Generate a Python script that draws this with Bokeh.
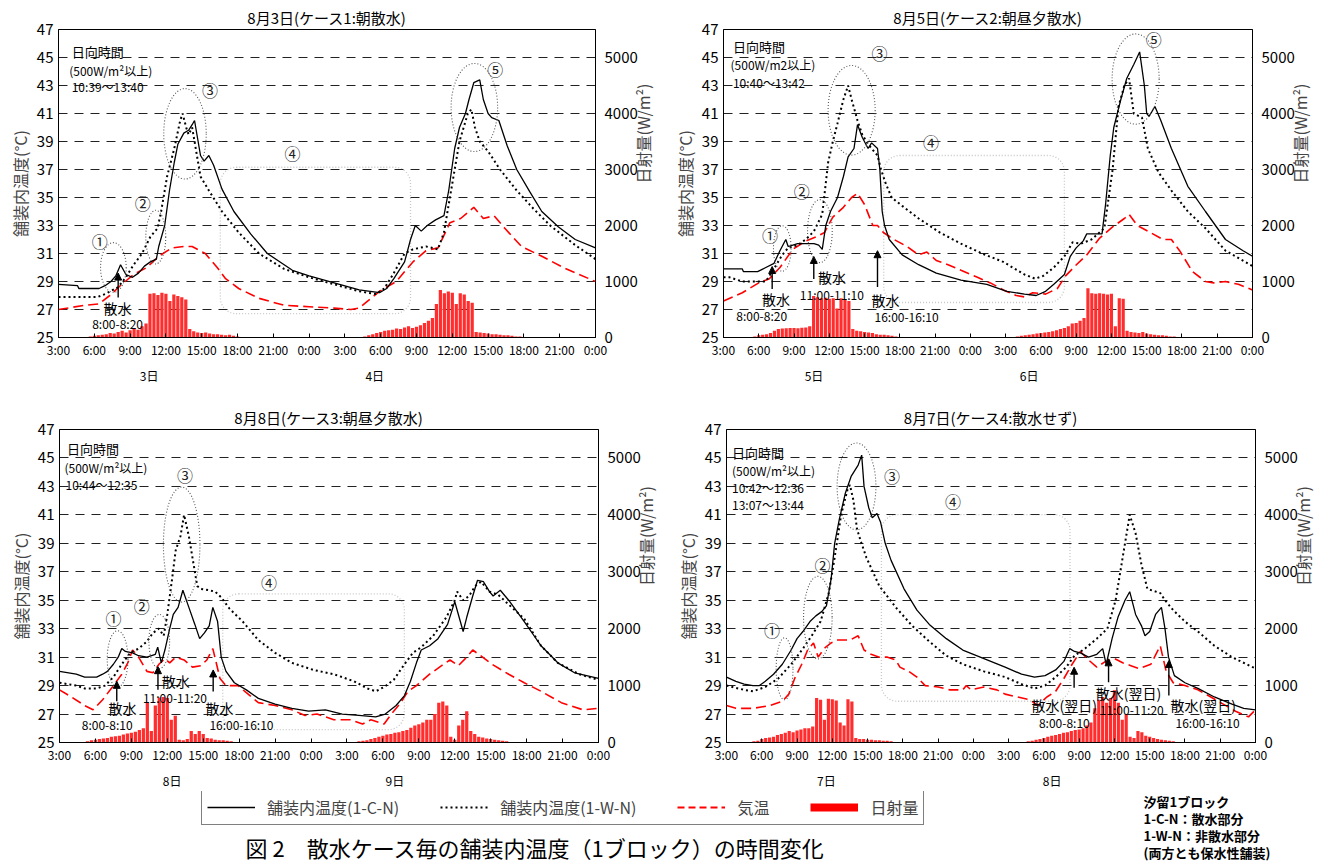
import math
from bokeh.plotting import figure
from bokeh.models import (Range1d, LinearAxis, FixedTicker, Arrow, NormalHead,
                          BoxAnnotation, Legend, LegendItem)
from bokeh.layouts import column, row
from bokeh.embed import file_html
from bokeh.resources import INLINE
from bokeh.core.properties import value

JP = "Noto Sans CJK JP"

# ---------------- axes ----------------
HOUR_TICKS = list(range(0, 46, 3))
HOUR_LABELS = ["3:00", "6:00", "9:00", "12:00", "15:00", "18:00", "21:00", "0:00",
               "3:00", "6:00", "9:00", "12:00", "15:00", "18:00", "21:00", "0:00"]
TEMP_TICKS = list(range(25, 48, 2))
GRID_TICKS = list(range(27, 46, 2))
RAD_TICKS = [0, 1000, 2000, 3000, 4000, 5000]

# ---------------- data (hour since 3:00 of first day, value) ----------------
# Panel 1 : 8/3
c1 = [(0,28.8),(1.6,28.7),(1.7,28.5),(3.4,28.5),(3.9,28.7),(4.4,29.0),(4.8,29.4),(5.2,30.2),(5.65,29.5),
      (6.2,29.3),(6.7,29.6),(7.2,30.1),(7.7,30.4),(8.2,30.6),(8.4,31.5),(8.9,33.0),(9.3,35.5),(9.7,37.5),
      (10.0,38.8),(10.5,39.6),(10.9,39.8),(11.2,40.2),(11.4,40.5),(11.6,39.5),(11.9,38.0),(12.2,37.6),
      (12.6,38.0),(13.0,37.3),(13.7,35.6),(14.7,34.0),(16.1,32.4),(17.5,31.0),(19.6,29.8),(21.0,29.4),
      (23.1,28.9),(25.2,28.4),(26.9,28.2),(27.5,28.5),(28.1,29.2),(29.0,30.4),(29.5,32.0),(29.9,33.0),
      (30.4,32.6),(30.9,33.0),(31.6,33.4),(32.3,33.7),(32.7,35.5),(33.2,38.5),(33.6,40.0),(34.1,41.0),
      (34.4,42.0),(34.8,43.2),(35.3,43.4),(35.6,42.0),(36.0,41.0),(36.3,40.7),(36.9,40.5),(37.6,38.7),
      (38.4,37.0),(39.5,35.4),(40.5,34.0),(41.9,32.9),(43.3,32.0),(45,31.4)]
w1 = [(0,27.9),(3.3,27.9),(3.9,28.1),(5.0,28.6),(5.65,29.3),(6.3,30.2),(7.0,31.0),(7.7,32.2),(8.3,32.8),
      (8.6,34.0),(9.1,36.5),(9.7,38.5),(10.2,40.5),(10.4,41.0),(10.7,40.0),(10.9,39.5),(11.2,40.0),
      (11.6,38.0),(11.9,36.5),(12.6,35.5),(13.7,34.0),(15.1,32.5),(16.8,31.0),(18.9,29.9),(21.0,29.3),
      (23.1,28.8),(25.2,28.3),(26.6,28.1),(27.3,28.5),(28.1,29.6),(29.0,31.0),(29.7,31.3),(30.8,31.5),
      (31.8,31.3),(32.3,32.5),(33.0,36.0),(33.6,39.0),(34.3,41.0),(34.6,41.3),(34.9,40.0),(35.3,39.0),
      (36.0,38.3),(37.0,37.0),(38.4,35.5),(39.8,34.2),(41.2,33.0),(43.3,31.6),(45,30.6)]
a1 = [(0,27.0),(2.2,27.3),(3.4,27.4),(4.3,28.0),(5.3,28.8),(6.3,29.5),(7.4,30.0),(8.4,30.8),(9.5,31.4),
      (10.5,31.5),(11.2,31.5),(12.3,31.0),(13.3,30.0),(14.0,29.2),(15.1,28.5),(16.8,27.8),(18.9,27.3),
      (21.0,27.2),(23.1,27.1),(24.5,27.0),(25.2,27.1),(25.9,27.6),(26.9,28.3),(28.3,29.0),(29.7,30.4),
      (30.8,31.2),(31.8,31.4),(32.8,33.2),(33.7,33.5),(34.8,34.3),(35.6,33.5),(36.5,33.7),(37.4,32.8),
      (38.8,31.5),(40.5,30.8),(42.3,30.0),(45,29.0)]
# solar radiation, W/m2, every 20 minutes from 3:00 (3 values per hour)
r1 = [0,0,0, 0,0,0, 0,10,20, 30,40,50, 60,80,70, 100,120,90, 130,150,140, 200,250,780,
      790,760,800, 780,650,770, 740,720,680, 150,110,90, 80,90,70, 60,60,50, 40,50,30, 20,10,10,
      0,0,0, 0,0,0, 0,0,0, 0,0,0, 0,0,0, 0,0,0, 0,0,0, 0,0,0,
      0,0,0, 0,10,20, 40,60,80, 100,120,130, 140,160,150, 180,200,170, 190,220,260, 300,350,600,
      850,790,820, 800,600,790, 770,650,620, 100,90,80, 70,60,60, 50,40,40, 30,20,20, 10,10,0,
      0,0,0, 0,0,0, 0,0,0, 0,0,0, 0,0,0]

# Panel 2 : 8/5
c2 = [(0,29.9),(1.6,29.9),(1.7,29.7),(2.9,29.7),(3.6,30.0),(4.3,30.3),(4.8,31.2),(5.3,32.0),(5.5,31.5),
      (5.9,31.6),(6.3,31.7),(7.0,31.7),(7.7,31.7),(8.1,31.6),(8.4,31.3),(8.7,33.0),(9.1,34.0),(9.7,35.0),
      (10.2,36.5),(10.6,37.9),(11.1,38.5),(11.4,40.2),(11.8,39.3),(12.3,38.5),(12.6,38.9),(13.1,38.5),
      (13.3,37.0),(13.5,34.0),(13.7,33.0),(14.1,32.0),(15.2,30.9),(16.6,30.2),(18.1,29.6),(20.2,29.1),
      (22.4,28.8),(24.1,28.3),(25.6,28.1),(26.6,28.0),(27.4,28.3),(28.1,28.8),(29.0,29.5),(29.5,30.8),
      (30.0,31.4),(30.6,31.9),(30.9,32.4),(32.2,32.4),(32.5,34.5),(32.9,38.0),(33.2,40.0),(33.8,42.0),
      (34.3,43.5),(34.9,44.5),(35.4,45.4),(35.8,43.0),(36.0,41.0),(36.2,40.8),(36.7,41.5),(37.2,40.5),
      (38.1,38.5),(39.5,35.8),(41.0,34.0),(42.7,32.0),(44.2,31.2),(45,30.8)]
w2 = [(0,29.3),(0.5,29.3),(1.6,29.0),(3.6,29.0),(3.9,29.4),(4.5,30.2),(5.0,30.9),(5.5,31.4),(6.3,31.6),
      (7.0,32.0),(7.7,32.6),(8.4,33.8),(8.9,37.5),(9.3,39.0),(9.7,40.3),(10.2,42.0),(10.6,43.0),
      (10.9,42.0),(11.4,40.5),(11.8,39.5),(12.3,38.8),(13.1,38.0),(13.4,37.0),(13.8,36.0),(14.3,35.0),
      (15.2,34.4),(16.6,33.5),(18.4,32.5),(20.2,31.7),(22.0,31.0),(23.8,30.4),(25.6,29.5),(26.5,29.2),
      (27.2,29.4),(28.1,30.0),(29.0,30.8),(29.7,31.8),(30.4,31.7),(31.3,32.0),(32.4,32.8),(33.1,37.0),
      (33.6,41.5),(34.1,43.0),(34.5,43.5),(34.9,41.0),(35.6,40.7),(36.1,38.5),(37.0,36.8),(38.1,35.5),
      (39.5,34.0),(41.0,32.8),(42.7,31.2),(45,30.1)]
a2 = [(0,27.6),(1.6,28.2),(3.0,28.9),(3.9,29.2),(4.8,30.0),(5.9,31.3),(7.0,31.9),(7.9,32.2),(8.6,32.5),
      (8.9,33.0),(9.3,33.6),(10.2,34.3),(10.9,35.0),(11.4,35.3),(12.0,34.5),(12.7,33.0),(13.1,33.0),
      (13.6,32.5),(14.5,32.0),(15.6,31.5),(16.6,30.9),(17.3,31.1),(18.1,30.5),(19.1,30.2),(20.2,29.8),
      (21.6,29.3),(22.7,28.9),(23.8,28.4),(24.9,28.0),(25.6,27.9),(26.3,28.2),(27.4,28.1),(28.4,28.5),
      (29.1,29.4),(29.9,30.1),(30.9,30.9),(32.0,32.1),(33.1,32.9),(34.1,33.5),(34.5,33.8),(35.2,33.0),
      (36.3,32.5),(37.4,32.0),(38.1,32.0),(38.8,31.2),(39.9,29.7),(41.0,29.0),(41.7,28.9),(42.7,29.0),
      (43.8,28.8),(45,28.4)]
r2 = [0,0,0, 0,0,0, 0,10,20, 40,50,60, 80,120,150, 160,165,170, 170,165,175, 180,200,740,
      720,700,710, 690,700,520, 700,680,650, 150,120,110, 100,90,80, 60,50,50, 40,30,20, 10,0,0,
      0,0,0, 0,0,0, 0,0,0, 0,0,0, 0,0,0, 0,0,0, 0,0,0, 0,0,0,
      0,10,10, 20,30,40, 50,60,70, 80,90,100, 110,130,150, 170,200,250, 260,300,350, 880,790,780,
      790,780,770, 780,200,700, 690,120,100, 90,80,100, 70,60,50, 40,40,30, 20,20,10, 10,0,0,
      0,0,0, 0,0,0, 0,0,0, 0,0,0, 0,0,0]

# Panel 3 : 8/8
c3 = [(0,30.0),(1.4,29.8),(2.1,29.6),(3.1,29.6),(3.6,29.8),(4.0,30.0),(4.5,30.5),(4.9,31.0),(5.2,31.6),
      (5.5,31.4),(6.1,31.3),(6.6,31.1),(7.3,31.0),(8.0,31.2),(8.2,31.7),(8.5,30.6),(8.8,31.5),(9.2,33.0),
      (9.5,34.0),(9.9,34.5),(10.3,35.7),(10.8,34.5),(11.3,33.3),(11.7,32.3),(12.1,32.7),(12.5,33.2),
      (12.8,34.5),(13.2,33.5),(13.5,31.0),(13.9,30.0),(14.6,29.2),(15.6,28.7),(16.6,28.1),(18.0,27.7),
      (19.4,27.4),(20.8,27.2),(22.2,27.3),(23.6,27.0),(25.0,26.9),(26.4,26.8),(27.2,27.0),(28.1,27.6),
      (28.8,28.3),(29.3,29.3),(29.8,30.6),(30.2,31.5),(30.9,31.8),(31.6,32.3),(32.4,33.3),(33.0,34.9),
      (33.3,34.0),(33.7,32.8),(34.0,33.8),(34.5,35.3),(34.9,36.4),(35.4,36.3),(35.9,35.6),(36.2,35.3),
      (36.8,35.7),(37.5,35.0),(38.8,33.5),(40.2,31.8),(41.6,30.6),(43.0,29.9),(45,29.5)]
w3 = [(0,29.2),(1.4,29.0),(2.1,28.8),(3.1,28.8),(3.8,29.0),(4.5,29.6),(5.2,30.5),(5.9,31.3),(6.6,31.6),
      (7.3,32.1),(7.8,32.7),(8.3,33.0),(8.7,32.5),(9.0,34.0),(9.4,36.5),(9.7,38.5),(10.1,39.5),
      (10.4,41.0),(10.8,39.5),(11.1,38.0),(11.5,36.0),(11.8,35.8),(12.5,35.7),(13.0,35.6),(13.5,35.2),
      (14.2,34.4),(15.3,33.5),(16.6,32.2),(18.0,31.3),(19.4,30.6),(21.2,30.1),(22.9,29.8),(24.6,29.3),
      (25.7,28.8),(26.4,28.6),(27.1,28.9),(27.9,29.4),(28.8,30.5),(29.5,31.3),(30.2,31.7),(31.2,32.5),
      (32.3,33.8),(33.0,35.0),(33.2,35.6),(33.7,35.0),(34.2,35.3),(34.7,36.0),(35.2,36.3),(35.9,35.6),
      (36.6,35.4),(37.5,34.7),(38.8,33.7),(40.2,31.8),(41.6,30.6),(43.4,29.8),(45,29.4)]
a3 = [(0,28.7),(1.0,28.2),(2.1,27.6),(2.8,27.3),(3.6,28.0),(4.5,29.0),(5.2,29.8),(5.7,30.6),(6.1,31.5),
      (6.6,31.0),(7.3,30.0),(7.8,29.9),(8.3,30.5),(8.8,30.9),(9.2,30.6),(9.7,31.0),(10.4,30.8),
      (11.1,30.3),(11.8,30.4),(12.3,30.8),(12.8,31.6),(13.4,29.5),(13.9,29.0),(14.9,29.0),(15.6,28.5),
      (16.6,27.8),(18.0,27.6),(19.4,27.3),(20.5,26.9),(21.5,27.0),(22.9,26.6),(24.3,26.6),(25.3,26.3),
      (26.0,26.6),(27.1,26.3),(27.7,27.0),(28.4,27.7),(29.1,28.6),(29.8,29.0),(30.9,29.8),(31.9,30.4),
      (32.6,30.8),(33.3,30.4),(34.0,31.0),(34.5,31.5),(35.0,31.2),(36.1,30.5),(37.5,29.8),(38.8,29.2),
      (40.2,28.6),(41.9,27.8),(43.7,27.3),(45,27.4)]
r3 = [0,0,0, 0,0,0, 0,20,40, 50,60,70, 80,100,110, 120,140,160, 170,190,220, 250,700,200,
      650,790,800, 780,400,470, 50,40,60, 200,150,200, 150,80,70, 50,40,40, 30,20,10, 0,0,0,
      0,0,0, 0,0,0, 0,0,0, 0,0,0, 0,0,0, 0,0,0, 0,0,0, 0,0,0,
      0,0,10, 20,30,40, 60,80,100, 120,140,150, 170,180,200, 220,260,300, 320,350,400, 400,500,700,
      720,650,100, 50,300,400, 550,200,150, 100,90,70, 60,50,40, 30,20,10, 0,0,0, 0,0,0,
      0,0,0, 0,0,0, 0,0,0, 0,0,0, 0,0,0]

# Panel 4 : 8/7
c4 = [(0,29.6),(0.8,29.3),(1.5,29.1),(2.25,29.0),(2.8,29.0),(3.3,29.3),(4.0,29.8),(4.75,30.5),(5.5,31.5),
      (6.0,32.3),(6.5,32.8),(7.1,33.5),(7.6,33.9),(8.1,34.2),(8.5,34.6),(8.9,36.5),(9.2,39.0),(9.6,40.7),
      (10.1,42.5),(10.6,43.7),(11.2,44.5),(11.5,45.2),(11.7,43.0),(12.1,41.5),(12.4,40.8),(12.8,41.1),
      (13.1,40.5),(13.5,39.0),(14.0,37.8),(15.1,35.8),(16.2,34.3),(17.25,33.3),(18.7,32.3),(20.1,31.5),
      (21.9,30.9),(23.7,30.3),(25.1,29.8),(26.2,29.6),(27.1,29.7),(28.0,30.1),(28.7,30.7),(29.2,31.6),
      (29.6,31.4),(30.1,31.3),(30.8,31.0),(31.5,31.2),(32.0,31.6),(32.3,30.5),(32.8,32.3),(33.3,33.8),
      (33.9,35.0),(34.3,35.6),(34.8,34.0),(35.3,33.2),(35.6,32.5),(36.0,32.8),(36.5,34.0),(37.0,34.5),
      (37.3,33.0),(37.6,31.0),(38.1,29.7),(39.0,29.2),(40.1,28.8),(41.5,28.2),(43.0,27.7),(44.0,27.4),
      (45,27.3)]
w4 = [(0,29.0),(1.5,28.7),(2.25,28.6),(3.3,28.9),(4.4,29.5),(5.5,30.5),(6.5,31.6),(7.25,32.5),(8.0,33.5),
      (8.7,35.5),(9.2,38.0),(9.75,41.0),(10.3,42.8),(10.5,43.1),(10.8,42.0),(11.1,40.0),(11.4,39.2),
      (11.9,38.0),(13.0,36.0),(14.4,34.5),(15.8,33.2),(17.25,32.1),(18.7,31.1),(20.1,30.5),(21.9,30.0),
      (23.7,29.6),(25.1,29.1),(26.2,28.8),(27.1,29.0),(28.0,29.6),(28.9,30.3),(29.6,31.1),(30.5,31.6),
      (31.5,32.3),(32.4,33.0),(33.1,35.0),(33.7,38.0),(34.1,40.0),(34.3,41.0),(34.8,39.7),(35.3,37.5),
      (35.8,35.8),(36.9,35.5),(37.3,35.0),(38.0,34.3),(39.0,33.5),(40.1,32.8),(41.5,31.8),(43.0,31.0),
      (45,30.2)]
a4 = [(0,27.6),(0.8,27.4),(2.25,27.4),(3.7,27.6),(4.75,27.9),(5.3,28.4),(5.8,29.5),(6.4,30.5),(6.9,31.5),
      (7.4,32.0),(7.8,31.0),(8.3,31.6),(8.9,32.0),(9.4,32.2),(10.5,32.2),(11.2,32.5),(11.7,31.5),
      (12.3,31.2),(13.0,31.0),(13.7,31.0),(14.4,30.8),(14.75,30.3),(15.5,30.0),(16.2,29.6),(16.9,29.0),
      (18.0,28.9),(19.0,28.7),(20.1,28.7),(20.4,29.0),(20.8,28.7),(21.9,28.9),(23.0,28.7),(23.7,28.4),
      (24.75,28.2),(25.8,28.0),(26.5,27.6),(27.25,28.2),(28.0,28.6),(28.7,29.5),(29.4,30.5),(30.1,31.4),
      (30.8,30.8),(31.5,30.3),(32.25,30.7),(33.0,30.9),(33.7,30.6),(34.4,30.4),(35.1,30.2),(36.1,30.5),
      (36.9,31.8),(37.4,30.0),(38.0,29.2),(39.0,29.0),(40.1,28.7),(41.2,28.2),(42.25,27.7),(43.3,27.2),
      (44.4,26.8),(45,27.3)]
r4 = [0,0,0, 0,0,0, 0,20,30, 60,80,90, 100,130,150, 170,200,180, 210,230,250, 250,280,780,
      750,400,770, 760,740,350, 300,760,720, 80,60,60, 50,50,40, 40,30,30, 20,10,10, 0,0,0,
      0,0,0, 0,0,0, 0,0,0, 0,0,0, 0,0,0, 0,0,0, 0,0,0, 0,0,0,
      0,0,0, 0,10,20, 30,50,60, 80,100,120, 130,150,170, 180,200,220, 230,250,300, 350,600,750,
      800,700,780, 920,700,400, 500,100,80, 200,180,120, 100,80,60, 50,40,30, 20,10,10, 0,0,0,
      0,0,0, 0,0,0, 0,0,0, 0,0,0, 0,0,0]

TITLES = ["8月3日(ケース1:朝散水)", "8月5日(ケース2:朝昼夕散水)",
          "8月8日(ケース3:朝昼夕散水)", "8月7日(ケース4:散水せず)"]
DAY_POS = [[7.6, 26.5], [7.7, 26.0], [9.4, 28.0], [8.5, 27.7]]
DAY_LBL = [["3日", "4日"], ["5日", "6日"], ["8日", "9日"], ["7日", "8日"]]

# ---------------- annotations (hour, temp) ----------------
ANN = [
    dict(info=[(1.1, 45.4, "日向時間", 13), (0.9, 44.1, "(500W/m²以上)", 12), (1.1, 42.9, "10:39～13:40", 12)],
         texts=[(4.95, 27.1, "散水", 14), (4.95, 26.0, "8:00-8:20", 12)],
         circ=[(3.45, 31.9, "①"), (7.05, 34.6, "②"), (12.7, 42.7, "③"), (19.6, 38.2, "④"), (36.6, 44.2, "⑤")],
         ell=[(4.6, 30.0, 2.15, 3.55), (8.15, 32.17, 1.67, 3.83), (10.6, 39.55, 3.56, 6.46), (34.85, 41.43, 3.9, 6.3)],
         box=(13.56, 29.5, 26.7, 37.16),
         arr=[(5.0, 27.86, 29.6)]),
    dict(info=[(0.8, 45.8, "日向時間", 13), (0.6, 44.5, "(500W/m2以上)", 12), (0.8, 43.25, "10:40～13:42", 12)],
         texts=[(4.46, 27.75, "散水", 14), (3.25, 26.57, "8:00-8:20", 12),
                (9.22, 29.29, "散水", 14), (9.22, 28.06, "11:00-11:10", 12),
                (13.78, 27.7, "散水", 14), (15.57, 26.5, "16:00-16:10", 12)],
         circ=[(3.96, 32.3, "①"), (6.65, 35.46, "②"), (13.27, 45.3, "③"), (17.65, 39.0, "④"), (36.6, 46.3, "⑤")],
         ell=[(5.0, 31.36, 1.5, 3.25), (8.2, 32.6, 2.1, 4.5), (10.9, 41.23, 4.0, 6.4), (35.06, 43.46, 4.0, 6.45)],
         box=(13.63, 29.0, 27.5, 38.0),
         arr=[(4.14, 28.47, 30.07), (7.68, 29.18, 30.79), (13.1, 28.6, 31.2)]),
    dict(info=[(0.62, 45.65, "日向時間", 13), (0.41, 44.34, "(500W/m²以上)", 12), (0.5, 43.1, "10:44～12:35", 12)],
         texts=[(5.27, 27.42, "散水", 14), (3.98, 26.26, "8:00-8:10", 12),
                (9.71, 29.33, "散水", 14), (9.64, 28.16, "11:00-11:20", 12),
                (13.35, 27.42, "散水", 14), (15.19, 26.26, "16:00-16:10", 12)],
         circ=[(4.5, 33.78, "①"), (6.86, 34.57, "②"), (10.47, 43.78, "③"), (17.5, 36.3, "④")],
         ell=[(4.85, 30.87, 1.73, 3.96), (8.33, 32.1, 1.73, 3.8), (10.2, 38.91, 3.05, 8.08)],
         box=(13.63, 28.79, 25.9, 35.45),
         arr=[(4.78, 27.9, 29.3), (8.22, 28.7, 30.33), (12.83, 28.58, 30.1)]),
    dict(info=[(0.47, 45.4, "日向時間", 13), (0.47, 44.1, "(500W/m²以上)", 12), (0.47, 42.9, "10:42～12:36", 12),
               (0.47, 41.73, "13:07～13:44", 12)],
         texts=[(28.74, 27.67, "散水(翌日)", 14), (28.74, 26.43, "8:00-8:10", 12),
                (34.2, 28.49, "散水(翌日)", 14), (34.47, 27.3, "11:00-11:20", 12),
                (40.56, 27.67, "散水(翌日)", 14), (40.92, 26.43, "16:00-16:10", 12)],
         circ=[(3.87, 32.92, "①"), (8.16, 37.49, "②"), (14.07, 43.76, "③"), (19.27, 41.96, "④")],
         ell=[(4.94, 30.18, 1.43, 4.36), (7.77, 33.78, 2.43, 5.8), (11.06, 43.0, 3.3, 6.1)],
         box=(13.18, 29.22, 27.9, 41.02),
         arr=[(29.57, 28.84, 30.29), (32.5, 29.24, 30.88), (37.63, 28.3, 30.76)]),
]

# figure geometry: (width, height, border_left, border_right, border_top, border_bottom)
GEOM = [(669, 395, 58, 67, 27, 58), (657, 395, 50, 68, 29, 57),
        (672, 396, 59, 67, 33, 48), (657, 396, 47, 68, 34, 49)]


def split(pairs):
    return [p[0] for p in pairs], [p[1] for p in pairs]


def make_panel(i, c, w, a, r):
    W, H, bl, br, bt, bb = GEOM[i]
    p = figure(width=W, height=H, min_border_left=bl, min_border_right=br,
               min_border_top=bt, min_border_bottom=bb,
               x_range=Range1d(0, 45), y_range=Range1d(25, 47),
               output_backend="svg", toolbar_location=None, tools="",
               title=TITLES[i])
    p.title.align = "center"
    p.title.text_font = JP
    p.title.text_font_size = "15px"
    p.title.text_font_style = "normal"
    p.title.text_color = "black"
    p.title.standoff = 4
    p.extra_y_ranges = {"rad": Range1d(0, 5500)}
    p.background_fill_color = "white"
    p.outline_line_color = "black"
    p.outline_line_width = 1

    xa = p.xaxis[0]
    xa.ticker = FixedTicker(ticks=HOUR_TICKS)
    xa.major_label_overrides = {t: l for t, l in zip(HOUR_TICKS, HOUR_LABELS)}
    xa.major_tick_in = 4
    xa.major_tick_out = 0
    xa.minor_tick_line_color = None
    xa.major_label_standoff = 3
    xa.major_label_text_font = JP
    xa.major_label_text_font_size = "12px"
    xa.major_label_text_color = "black"
    xa.axis_line_color = "black"

    dp = DAY_POS[i]
    day_axis = LinearAxis(ticker=FixedTicker(ticks=dp),
                          major_label_overrides={t: l for t, l in zip(dp, DAY_LBL[i])},
                          axis_line_color=None, major_tick_line_color=None,
                          minor_tick_line_color=None, major_label_standoff=0,
                          major_label_text_font=JP, major_label_text_font_size="12px",
                          major_label_text_color="black")
    p.add_layout(day_axis, "below")

    ya = p.yaxis[0]
    ya.ticker = FixedTicker(ticks=TEMP_TICKS)
    ya.major_tick_in = 0
    ya.major_tick_out = 0
    ya.minor_tick_line_color = None
    ya.major_label_standoff = 5
    ya.major_label_text_font = JP
    ya.major_label_text_font_size = "15px"
    ya.major_label_text_color = "black"
    ya.axis_label = "舗装内温度(°C)"
    ya.axis_label_text_font = JP
    ya.axis_label_text_font_size = "16px"
    ya.axis_label_text_font_style = "normal"
    ya.axis_label_standoff = 2
    ya.axis_line_color = "black"

    ra = LinearAxis(y_range_name="rad", ticker=FixedTicker(ticks=RAD_TICKS),
                    major_tick_in=0, major_tick_out=0, minor_tick_line_color=None,
                    major_label_standoff=9, major_label_text_font=JP,
                    major_label_text_font_size="15px", major_label_text_color="black",
                    axis_label="日射量(W/m²)", axis_label_text_font=JP,
                    axis_label_text_font_size="16px", axis_label_text_font_style="normal",
                    axis_label_standoff=2, axis_label_orientation=math.pi / 2,
                    axis_line_color="black")
    p.add_layout(ra, "right")

    p.xgrid.visible = False
    p.ygrid.ticker = FixedTicker(ticks=GRID_TICKS)
    p.ygrid.grid_line_color = "#222222"
    p.ygrid.grid_line_dash = "9 7"
    p.ygrid.grid_line_width = 1

    rh = [k / 3 for k in range(len(r))]
    p.vbar(x=rh, top=r, bottom=0, width=0.27, y_range_name="rad",
           fill_color="#ff2d2d", line_color=None)

    ax, ay = split(a)
    p.line(ax, ay, line_color="#ff0000", line_width=1.6, line_dash="10 5")
    wx, wy = split(w)
    p.line(wx, wy, line_color="black", line_width=2, line_dash="2 3")
    cx, cy = split(c)
    p.line(cx, cy, line_color="black", line_width=1.3)

    ann = ANN[i]
    for (h, t, s, fs) in ann["info"]:
        p.text([h], [t], text=[s], text_font=value(JP), text_font_size=f"{fs}px",
               text_align="left", text_baseline="middle", text_color="black")
    for (h, t, s, fs) in ann["texts"]:
        p.text([h], [t], text=[s], text_font=value(JP), text_font_size=f"{fs}px",
               text_align="center", text_baseline="middle", text_color="black")
    for (h, t, s) in ann["circ"]:
        p.text([h], [t], text=[s], text_font=value(JP), text_font_size="16px",
               text_align="center", text_baseline="middle", text_color="#222222")
    for (h, t, ew, eh) in ann["ell"]:
        p.ellipse(x=[h], y=[t], width=[ew], height=[eh], fill_color=None,
                  line_color="#555555", line_dash="1 2", line_width=1.1)
    bl_, br_, bb_, bt_ = ann["box"]
    p.add_layout(BoxAnnotation(left=bl_, right=br_, bottom=bb_, top=bt_, fill_alpha=0,
                               line_color="#444444", line_dash="1 2", line_width=1.3,
                               border_radius=16))
    for (h, t0, t1) in ann["arr"]:
        p.add_layout(Arrow(end=NormalHead(size=7, fill_color="black", line_color="black"),
                           x_start=h, y_start=t0, x_end=h, y_end=t1,
                           line_color="black", line_width=1.4))
    return p


p1 = make_panel(0, c1, w1, a1, r1)
p2 = make_panel(1, c2, w2, a2, r2)
p3 = make_panel(2, c3, w3, a3, r3)
p4 = make_panel(3, c4, w4, a4, r4)

# ---------------- bottom strip: legend, notes, caption ----------------
pb = figure(width=1330, height=72, x_range=Range1d(0, 1330), y_range=Range1d(863, 791),
            min_border=0, output_backend="svg", toolbar_location=None, tools="",
            x_axis_location=None, y_axis_location=None)
pb.grid.visible = False
pb.outline_line_color = None

OFF_X = [-100, -90]
OFF_Y = [800, 800]
g1 = pb.line(OFF_X, OFF_Y, line_color="black", line_width=1.5)
g2 = pb.line(OFF_X, OFF_Y, line_color="black", line_width=2, line_dash="2 3")
g3 = pb.line(OFF_X, OFF_Y, line_color="#ff0000", line_width=2, line_dash="7 4")
g4 = pb.line(OFF_X, OFF_Y, line_color="#ff0000", line_width=8)
legend = Legend(items=[LegendItem(label="舗装内温度(1-C-N)", renderers=[g1]),
                       LegendItem(label="舗装内温度(1-W-N)", renderers=[g2]),
                       LegendItem(label="気温", renderers=[g3]),
                       LegendItem(label="日射量", renderers=[g4])],
                orientation="horizontal", location=(201, 38),
                border_line_color="black", border_line_width=1.5,
                label_text_font=JP, label_text_font_size="16px",
                glyph_width=48, glyph_height=14, label_standoff=12, spacing=41,
                padding=5, margin=0, background_fill_alpha=1)
pb.add_layout(legend)

NOTES = ["汐留1ブロック", "1-C-N：散水部分", "1-W-N：非散水部分", "(両方とも保水性舗装)"]
NOTE_Y = [801, 818, 835, 852]
pb.text([1143] * 4, NOTE_Y, text=NOTES, text_font=value(JP), text_font_size="13px",
        text_font_style="bold", text_align="left", text_baseline="middle", text_color="black")
pb.text([245], [846], text=["図 2　散水ケース毎の舗装内温度（1ブロック）の時間変化"],
        text_font=value(JP), text_font_size="22px", text_align="left",
        text_baseline="middle", text_color="black")

layout = column(row(p1, p2), row(p3, p4), pb)
open("out.html", "w").write(file_html(layout, INLINE))
